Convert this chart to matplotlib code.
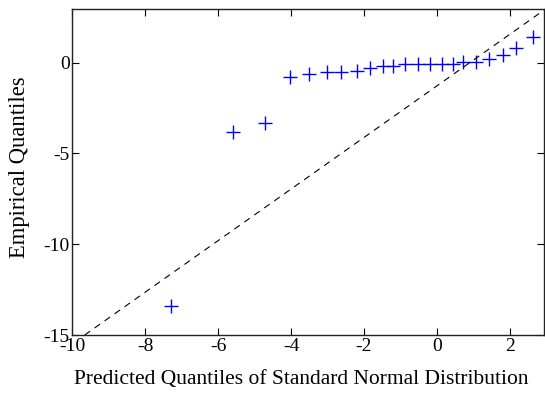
import matplotlib
matplotlib.use("Agg")
import matplotlib.pyplot as plt
import numpy as np

# quantile pairs
predicted = [-7.29, -5.60, -4.71, -4.02, -3.50, -3.01, -2.62, -2.20, -1.84, -1.49, -1.19,
             -0.86, -0.53, -0.20, 0.13, 0.43, 0.72, 1.07, 1.43, 1.81, 2.17, 2.63]
empirical = [-13.41, -3.82, -3.31, -0.80, -0.64, -0.50, -0.50, -0.44, -0.28, -0.17, -0.17,
             -0.09, -0.09, -0.09, -0.09, -0.09, 0.03, 0.04, 0.19, 0.42, 0.83, 1.40]

# reference line
ref_slope = 1.42
ref_intercept = -1.28

x_ticks = [-10, -8, -6, -4, -2, 0, 2]
y_ticks = [-15, -10, -5, 0]

plt.rcParams['font.family'] = ['Liberation Serif', 'DejaVu Serif']
plt.rcParams['axes.unicode_minus'] = False

fig = plt.figure(figsize=(5.45, 3.94), dpi=100)
ax = fig.add_axes([0.1327, 0.1497, 0.8655, 0.8267])

ax.plot(predicted, empirical, linestyle="none", marker="+", color="blue",
        markersize=10, markeredgewidth=1.0)
ax.axline((0, ref_intercept), slope=ref_slope, color="black", linestyle=(0, (6, 5)),
          linewidth=0.8)

ax.set_xlim(-10, 2.94)
ax.set_ylim(-15, 2.94)
ax.set_xticks(x_ticks)
ax.set_yticks(y_ticks)
ax.tick_params(direction="in", length=5, width=0.8, top=True, right=True,
               labelsize=14, pad=2)
for s in ax.spines.values():
    s.set_linewidth(1.0)
    s.set_color("#222222")

ax.set_xlabel("Predicted Quantiles of Standard Normal Distribution", fontsize=15.5)
ax.set_ylabel("Empirical Quantiles", fontsize=16.3)
ax.xaxis.set_label_coords(0.486, -0.108)
ax.yaxis.set_label_coords(-0.09, 0.514)

fig.savefig("out.png", dpi=100)
